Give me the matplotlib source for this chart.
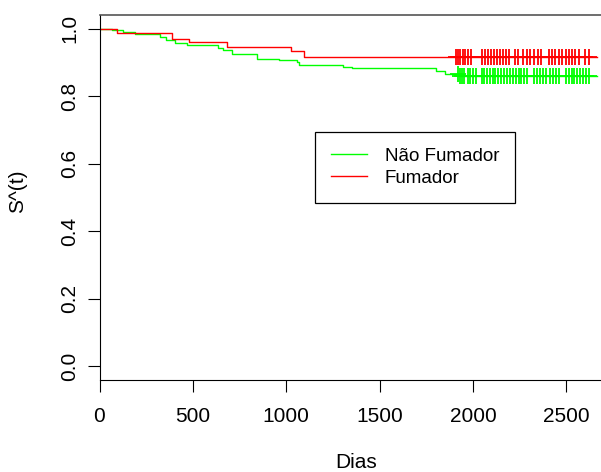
import numpy as np
import matplotlib
matplotlib.use("Agg")
import matplotlib.pyplot as plt
from matplotlib.lines import Line2D

plt.rcParams['font.family'] = ['Liberation Sans', 'DejaVu Sans']

# ---- data (Kaplan-Meier estimates) ----
groups = ["Não Fumador", "Fumador"]
colors = ["#00FF00", "#FF0000"]

# Não Fumador: event times (days) and survival after each event
nf_times = [0, 69, 128, 190, 324, 355, 404, 470, 636, 663, 711, 842, 963,
            1056, 1070, 1306, 1351, 1803, 1851, 1925]
nf_surv = [1.0, 0.995, 0.990, 0.983, 0.975, 0.965, 0.957, 0.950, 0.943, 0.935,
           0.925, 0.911, 0.906, 0.900, 0.891, 0.885, 0.882, 0.874, 0.866, 0.859]
nf_censor = [1920, 1931, 1942, 1952, 1974, 1985, 2001, 2017, 2049, 2060, 2076,
             2092, 2108, 2119, 2135, 2151, 2167, 2183, 2199, 2215, 2231, 2247,
             2258, 2274, 2290, 2328, 2344, 2360, 2376, 2392, 2413, 2429, 2446,
             2462, 2499, 2515, 2531, 2542, 2558, 2574, 2590, 2606, 2622]

# Fumador
f_times = [0, 92, 390, 480, 681, 1024, 1096]
f_surv = [1.0, 0.986, 0.970, 0.961, 0.946, 0.933, 0.916]
f_censor = [1910, 1920, 1931, 1947, 1958, 1974, 1990, 2049, 2065, 2081, 2097,
            2113, 2129, 2145, 2161, 2178, 2194, 2226, 2242, 2269, 2290, 2306,
            2327, 2349, 2365, 2408, 2424, 2440, 2461, 2478, 2499, 2515, 2531,
            2547, 2569, 2601, 2622]

max_time = 2665

x_ticks = [0, 500, 1000, 1500, 2000, 2500]
y_ticks = [0.0, 0.2, 0.4, 0.6, 0.8, 1.0]
y_tick_labels = ["0.0", "0.2", "0.4", "0.6", "0.8", "1.0"]

# ---- figure ----
W, H = 601, 472
fig = plt.figure(figsize=(W / 100, H / 100), dpi=100)
ax_left, ax_right, ax_top, ax_bottom = 99.5, 617, 15, 380
ax = fig.add_axes([ax_left / W, (H - ax_bottom) / H,
                   (ax_right - ax_left) / W, (ax_bottom - ax_top) / H])

series = [(nf_times, nf_surv, nf_censor), (f_times, f_surv, f_censor)]
for (t, s, c), col in zip(series, colors):
    tt = list(t) + [max_time]
    ss = list(s) + [s[-1]]
    ax.step(tt, ss, where='post', color=col, lw=1.0)
    idx = np.searchsorted(np.array(t), np.array(c), side='right') - 1
    cs = np.array(s)[idx]
    ax.plot(c, cs, linestyle='none', marker='+', markersize=11,
            markeredgewidth=1.3, color=col)

ax.set_xlim(0, max_time * 1.04)
ax.set_ylim(-0.04, 1.04)
ax.set_xticks(x_ticks)
ax.set_xticklabels([str(v) for v in x_ticks])
ax.set_yticks(y_ticks)
ax.set_yticklabels(y_tick_labels)
ax.tick_params(axis='both', direction='out', length=8.5, width=0.8,
               labelsize=15, color='black')
ax.tick_params(axis='x', pad=11)
ax.tick_params(axis='y', pad=6)
for lab in ax.get_yticklabels():
    lab.set_rotation(90)
    lab.set_va('center')

for sp in ['left', 'bottom']:
    ax.spines[sp].set_color('black')
    ax.spines[sp].set_linewidth(0.8)
ax.spines['top'].set_color('#555555')
ax.spines['top'].set_linewidth(1.2)
ax.spines['right'].set_color('#555555')

ax.set_xlabel("Dias", fontsize=15)
ax.set_ylabel("S^(t)", fontsize=15)
ax_w = ax_right - ax_left
ax_h = ax_bottom - ax_top
ax.xaxis.set_label_coords((356 - ax_left) / ax_w, (ax_bottom - 462) / ax_h)
ax.xaxis.label.set_va('center')
ax.yaxis.set_label_coords((18 - ax_left) / ax_w, (ax_bottom - 191) / ax_h)
ax.yaxis.label.set_va('center')
ax.yaxis.label.set_ha('center')

handles = [Line2D([], [], color=c, lw=1.0) for c in colors]
leg = ax.legend(handles, groups, loc='upper left',
                bbox_to_anchor=(315 / W, 1 - 131.7 / H),
                bbox_transform=fig.transFigure, borderaxespad=0,
                fancybox=False, framealpha=1, edgecolor='black',
                fontsize=13.5, handlelength=1.92, handletextpad=0.96,
                borderpad=0.85, labelspacing=0.27)
leg.get_frame().set_linewidth(0.9)

fig.savefig("out.png", dpi=100)
